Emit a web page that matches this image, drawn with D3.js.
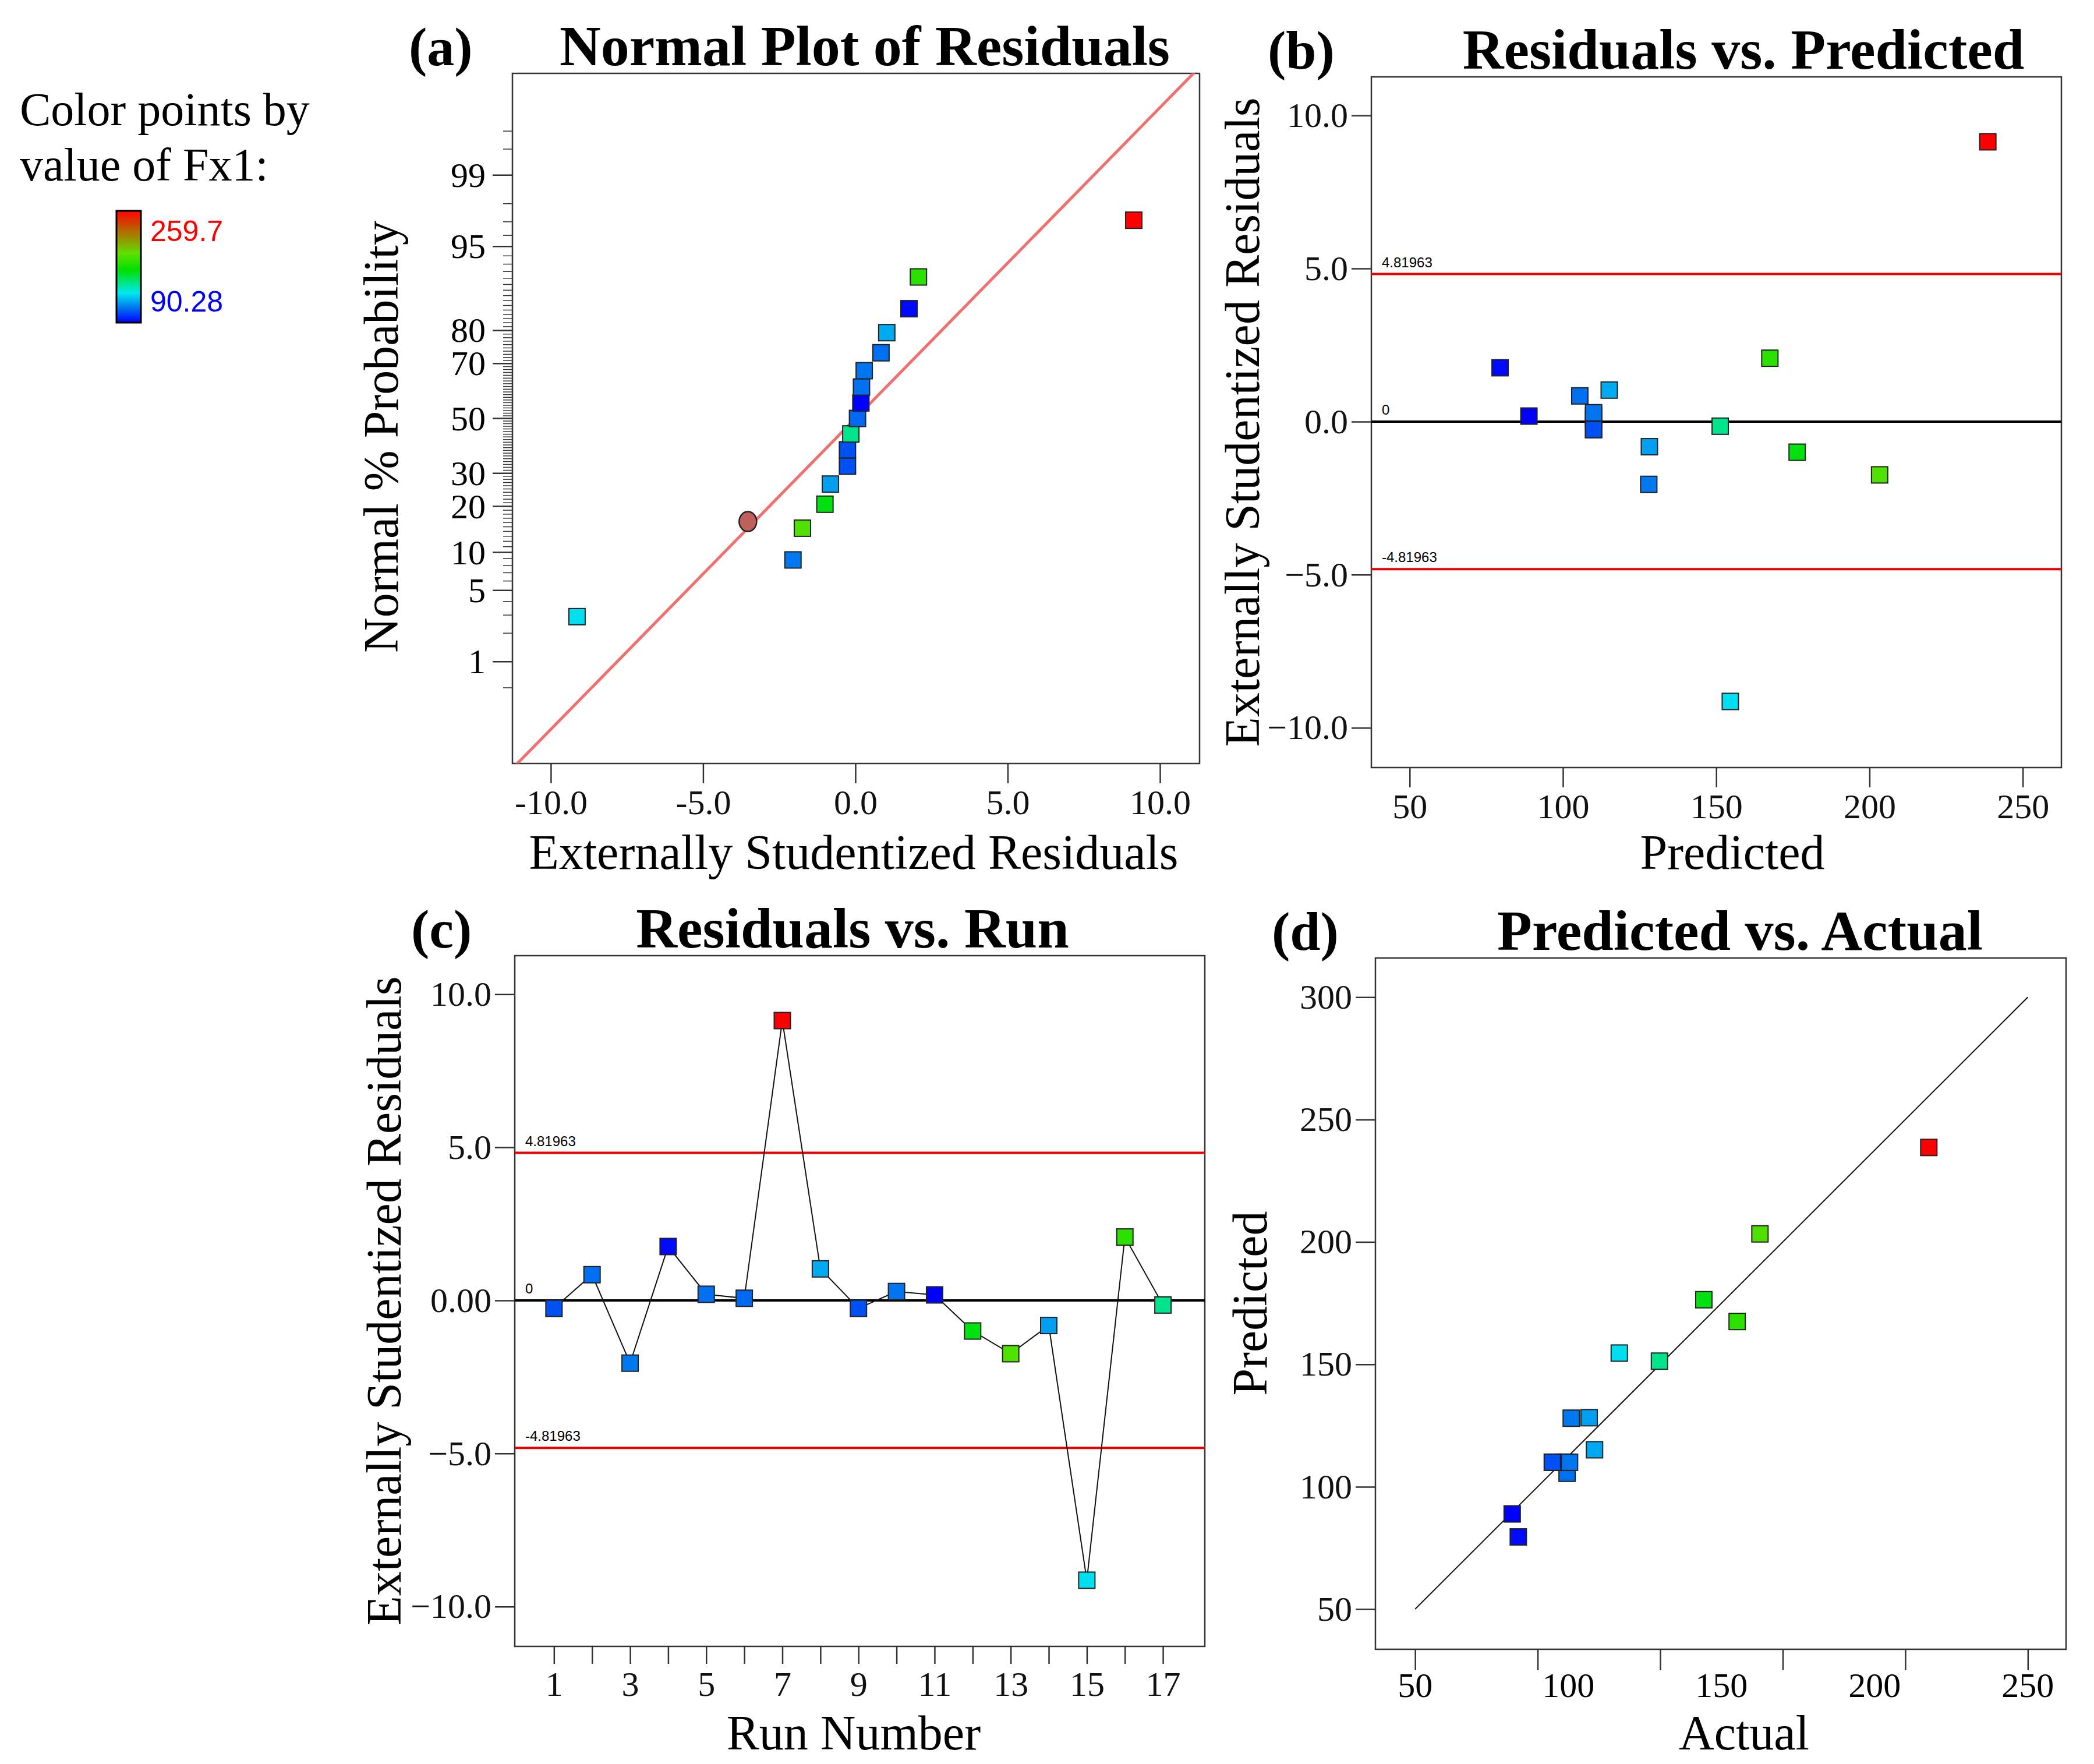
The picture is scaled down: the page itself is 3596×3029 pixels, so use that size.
<!DOCTYPE html>
<html><head><meta charset="utf-8">
<script src="https://cdn.jsdelivr.net/npm/d3@7"></script>
<style>body{margin:0;background:#fff}</style>
</head><body>
<script>
// run data
var runs = [1,2,3,4,5,6,7,8,9,10,11,12,13,14,15,16,17]
var residuals = [-0.26,0.84,-2.05,1.76,0.2,0.07,9.14,1.03,-0.26,0.29,0.18,-1.0,-1.74,-0.82,-9.14,2.07,-0.15]
var predicted = [110,105.5,128,79.5,110,110,238.6,115.1,110,110,88.9,176.4,203.3,128.2,154.6,167.5,151.3]
var actual = [106,112,113.7,92.1,112,110.5,259.6,123.2,106,113,89.6,167.8,190.7,121,133.3,181.4,149.7]
// normal plot (runs in sorted order, with their probabilities)
var normRuns = [15,3,13,12,14,1,9,17,6,11,5,10,2,8,4,16,7]
var normProb = [2.9,8.8,14.7,20.6,26.5,32.4,38.2,44.1,50,55.9,61.8,67.6,73.5,79.4,85.3,91.2,97.1]
var normCircle = [-3.53, 16.2]
var probTicks = [1,5,10,20,30,50,70,80,95,99]
var limit = 4.81963
var colorMin = 90.28, colorMax = 259.7

var W = 3596, H = 3029
var serif = "'Liberation Serif', serif", sans = "'Liberation Sans', Arial, sans-serif"
var tickFont = 60
var svg = d3.select('body').append('svg').attr('width', W).attr('height', H)

var color = d3.scaleLinear().domain([colorMin, 112, 135, 170, 195, colorMax])
    .range(['#0000ff', '#0070f0', '#00e8f0', '#00e000', '#60e000', '#ff0000'])

// inverse normal cdf (Acklam)
function probit(p) {
    var a = [-39.69683028665376, 220.9460984245205, -275.9285104469687, 138.357751867269, -30.66479806614716, 2.506628277459239]
    var b = [-54.47609879822406, 161.5858368580409, -155.6989798598866, 66.80131188771972, -13.28068155288572]
    var c = [-0.007784894002430293, -0.3223964580411365, -2.400758277161838, -2.549732539343734, 4.374664141464968, 2.938163982698783]
    var d = [0.007784695709041462, 0.3224671290700398, 2.445134137142996, 3.754408661907416]
    var q, r
    if (p < 0.02425) {
        q = Math.sqrt(-2 * Math.log(p))
        return (((((c[0]*q+c[1])*q+c[2])*q+c[3])*q+c[4])*q+c[5]) / ((((d[0]*q+d[1])*q+d[2])*q+d[3])*q+1)
    } else if (p <= 1 - 0.02425) {
        q = p - 0.5; r = q * q
        return (((((a[0]*r+a[1])*r+a[2])*r+a[3])*r+a[4])*r+a[5])*q / (((((b[0]*r+b[1])*r+b[2])*r+b[3])*r+b[4])*r+1)
    } else {
        q = Math.sqrt(-2 * Math.log(1 - p))
        return -(((((c[0]*q+c[1])*q+c[2])*q+c[3])*q+c[4])*q+c[5]) / ((((d[0]*q+d[1])*q+d[2])*q+d[3])*q+1)
    }
}

function panel(box, tag, title, titleX) {
    var g = svg.append('g')
    g.append('rect').attr('x', box.x0).attr('y', box.y0)
        .attr('width', box.x1 - box.x0).attr('height', box.y1 - box.y0)
        .attr('fill', 'none').attr('stroke', '#333').attr('stroke-width', 2.5)
    g.append('text').attr('x', box.x0 - 178).attr('y', box.y0 - 14).text(tag)
        .attr('font-family', serif).attr('font-weight', 'bold').attr('font-size', 94)
    g.append('text').attr('x', titleX).attr('y', box.y0 - 14).attr('text-anchor', 'middle').text(title)
        .attr('font-family', serif).attr('font-weight', 'bold').attr('font-size', 98)
    var clip = 'clip' + tag.replace(/\W/g, '')
    svg.append('clipPath').attr('id', clip).append('rect').attr('x', box.x0).attr('y', box.y0)
        .attr('width', box.x1 - box.x0).attr('height', box.y1 - box.y0)
    g.clipId = clip
    return g
}

function yTitle(g, x, yc, t) {
    g.append('text').attr('transform', 'translate(' + x + ',' + yc + ') rotate(-90)')
        .attr('text-anchor', 'middle').text(t).attr('font-family', serif).attr('font-size', 84)
}
function xTitle(g, xc, y, t) {
    g.append('text').attr('x', xc).attr('y', y).attr('text-anchor', 'middle').text(t)
        .attr('font-family', serif).attr('font-size', 84)
}
function styleAxis(a) {
    a.selectAll('text').attr('font-family', serif).attr('font-size', tickFont).attr('fill', '#111')
    a.selectAll('line').attr('stroke', '#333').attr('stroke-width', 2.5)
    a.select('.domain').remove()
}
function squares(g, data, fx, fy, fc) {
    g.selectAll(null).data(data).enter().append('rect')
        .attr('x', function (d, i) { return fx(d, i) - 14 }).attr('y', function (d, i) { return fy(d, i) - 14 })
        .attr('width', 28).attr('height', 28)
        .attr('fill', fc).attr('stroke', '#222').attr('stroke-width', 2)
}
function limitLines(g, x, y, box) {
    [limit, 0, -limit].forEach(function (v) {
        g.append('line').attr('x1', box.x0).attr('x2', box.x1).attr('y1', y(v)).attr('y2', y(v))
            .attr('stroke', v == 0 ? '#000' : '#ee0000').attr('stroke-width', 4)
        g.append('text').attr('x', box.x0 + 18).attr('y', y(v) - 12).text(v == 0 ? '0' : v.toFixed(5))
            .attr('font-family', sans).attr('font-size', 24)
    })
}
function fmtRes(d) { return (d < 0 ? '\u2212' : '') + Math.abs(d).toFixed(1) }

// ---------- legend ----------
var leg = svg.append('g')
leg.append('text').attr('x', 34).attr('y', 215).text('Color points by').attr('font-family', serif).attr('font-size', 80)
leg.append('text').attr('x', 34).attr('y', 310).text('value of Fx1:').attr('font-family', serif).attr('font-size', 80)
var grad = svg.append('defs').append('linearGradient').attr('id', 'cbar')
    .attr('x1', 0).attr('y1', 1).attr('x2', 0).attr('y2', 0)
color.domain().forEach(function (v) {
    grad.append('stop').attr('offset', (v - colorMin) / (colorMax - colorMin)).attr('stop-color', color(v))
})
leg.append('rect').attr('x', 200).attr('y', 362).attr('width', 42).attr('height', 192)
    .attr('fill', 'url(#cbar)').attr('stroke', '#000').attr('stroke-width', 3)
leg.append('text').attr('x', 258).attr('y', 414).text(colorMax).attr('fill', '#ff0000').attr('font-family', sans).attr('font-size', 50)
leg.append('text').attr('x', 258).attr('y', 535).text(colorMin).attr('fill', '#0000ff').attr('font-family', sans).attr('font-size', 50)

// ---------- (a) normal plot ----------
var boxA = {x0: 880, x1: 2060, y0: 126, y1: 1311}
var gA = panel(boxA, '(a)', 'Normal Plot of Residuals', 1485)
var xA = d3.scaleLinear().domain([-11.26, 11.3]).range([boxA.x0, boxA.x1])
var zA = d3.scaleLinear().domain([-3.3, 3.3]).range([boxA.y1, boxA.y0])
var yA = function (p) { return zA(probit(p / 100)) }
var axA = gA.append('g').attr('transform', 'translate(0,' + boxA.y1 + ')')
    .call(d3.axisBottom(xA).tickValues([-10, -5, 0, 5, 10]).tickFormat(function (d) { return d.toFixed(1) }).tickSize(34).tickPadding(10))
styleAxis(axA)
var minorP = d3.range(1, 100).concat([0.5, 99.5, 99.7])
gA.selectAll(null).data(minorP).enter().append('line')
    .attr('x1', boxA.x0).attr('x2', boxA.x0 - 16).attr('y1', yA).attr('y2', yA)
    .attr('stroke', '#333').attr('stroke-width', 1.5)
gA.selectAll(null).data(probTicks).enter().append('line')
    .attr('x1', boxA.x0).attr('x2', boxA.x0 - 34).attr('y1', yA).attr('y2', yA)
    .attr('stroke', '#333').attr('stroke-width', 2.5)
gA.selectAll(null).data(probTicks).enter().append('text')
    .attr('x', boxA.x0 - 46).attr('y', function (d) { return yA(d) + 20 }).attr('text-anchor', 'end')
    .text(function (d) { return d }).attr('font-family', serif).attr('font-size', tickFont)
gA.append('line').attr('clip-path', 'url(#' + gA.clipId + ')')
    .attr('x1', xA(-11.3)).attr('y1', zA(-3.36)).attr('x2', xA(11.3)).attr('y2', zA(3.36))
    .attr('stroke', '#f07070').attr('stroke-width', 5)
squares(gA, normRuns, function (r, i) { return xA(residuals[r - 1]) }, function (r, i) { return yA(normProb[i]) },
    function (r) { return color(actual[r - 1]) })
gA.append('ellipse').attr('cx', xA(normCircle[0])).attr('cy', yA(normCircle[1])).attr('rx', 15).attr('ry', 17)
    .attr('fill', '#c0605a').attr('stroke', '#222').attr('stroke-width', 2.5)
yTitle(gA, 683, 750, 'Normal % Probability')
xTitle(gA, 1466, 1492, 'Externally Studentized Residuals')

// ---------- (b) residuals vs predicted ----------
var boxB = {x0: 2355, x1: 3540, y0: 132, y1: 1318}
var gB = panel(boxB, '(b)', 'Residuals vs. Predicted', 2994)
var xB = d3.scaleLinear().domain([37.5, 262.6]).range([boxB.x0, boxB.x1])
var yB = d3.scaleLinear().domain([-11.3, 11.26]).range([boxB.y1, boxB.y0])
styleAxis(gB.append('g').attr('transform', 'translate(0,' + boxB.y1 + ')')
    .call(d3.axisBottom(xB).tickValues([50, 100, 150, 200, 250]).tickSize(34).tickPadding(10)))
styleAxis(gB.append('g').attr('transform', 'translate(' + boxB.x0 + ',0)')
    .call(d3.axisLeft(yB).tickValues([-10, -5, 0, 5, 10]).tickFormat(fmtRes).tickSize(34).tickPadding(6)))
limitLines(gB, xB, yB, boxB)
squares(gB, runs, function (r) { return xB(predicted[r - 1]) }, function (r) { return yB(residuals[r - 1]) },
    function (r) { return color(actual[r - 1]) })
yTitle(gB, 2162, 725, 'Externally Studentized Residuals')
xTitle(gB, 2975, 1492, 'Predicted')

// ---------- (c) residuals vs run ----------
var boxC = {x0: 884, x1: 2069, y0: 1641, y1: 2827}
var gC = panel(boxC, '(c)', 'Residuals vs. Run', 1464)
var xC = d3.scaleLinear().domain([-0.03, 18.1]).range([boxC.x0, boxC.x1])
var yC = d3.scaleLinear().domain([-11.3, 11.26]).range([boxC.y1, boxC.y0])
styleAxis(gC.append('g').attr('transform', 'translate(0,' + boxC.y1 + ')')
    .call(d3.axisBottom(xC).tickValues(runs).tickFormat(function (d) { return d % 2 ? d : '' }).tickSize(30).tickPadding(12)))
styleAxis(gC.append('g').attr('transform', 'translate(' + boxC.x0 + ',0)')
    .call(d3.axisLeft(yC).tickValues([-10, -5, 0, 5, 10]).tickFormat(function (d) { return d == 0 ? '0.00' : fmtRes(d) }).tickSize(34).tickPadding(6)))
limitLines(gC, xC, yC, boxC)
gC.append('path').datum(runs)
    .attr('d', d3.line().x(function (r) { return xC(r) }).y(function (r) { return yC(residuals[r - 1]) }))
    .attr('fill', 'none').attr('stroke', '#111').attr('stroke-width', 2)
squares(gC, runs, function (r) { return xC(r) }, function (r) { return yC(residuals[r - 1]) },
    function (r) { return color(actual[r - 1]) })
yTitle(gC, 688, 2234, 'Externally Studentized Residuals')
xTitle(gC, 1466, 3004, 'Run Number')

// ---------- (d) predicted vs actual ----------
var boxD = {x0: 2362, x1: 3548, y0: 1645, y1: 2832}
var gD = panel(boxD, '(d)', 'Predicted vs. Actual', 2988)
var xD = d3.scaleLinear().domain([33.8, 315.6]).range([boxD.x0, boxD.x1])
var yD = d3.scaleLinear().domain([33.6, 316]).range([boxD.y1, boxD.y0])
var dTicks = [50, 100, 150, 200, 250, 300]
var dLabels = ['50', '100', '150', '200', '250']
var dLabelAt = [50, 112.5, 175, 237.5, 300]
var axD = gD.append('g').attr('transform', 'translate(0,' + boxD.y1 + ')')
    .call(d3.axisBottom(xD).tickValues(dTicks).tickFormat('').tickSize(36))
styleAxis(axD)
gD.selectAll(null).data(dLabels).enter().append('text')
    .attr('x', function (d, i) { return xD(dLabelAt[i]) }).attr('y', boxD.y1 + 82).attr('text-anchor', 'middle')
    .text(function (d) { return d }).attr('font-family', serif).attr('font-size', tickFont)
styleAxis(gD.append('g').attr('transform', 'translate(' + boxD.x0 + ',0)')
    .call(d3.axisLeft(yD).tickValues(dTicks).tickSize(34).tickPadding(6)))
gD.append('line').attr('x1', xD(50)).attr('y1', yD(50)).attr('x2', xD(300)).attr('y2', yD(300))
    .attr('stroke', '#111').attr('stroke-width', 2)
squares(gD, runs, function (r) { return xD(actual[r - 1]) }, function (r) { return yD(predicted[r - 1]) },
    function (r) { return color(actual[r - 1]) })
yTitle(gD, 2175, 2238, 'Predicted')
xTitle(gD, 2995, 3004, 'Actual')
</script>
</body></html>
